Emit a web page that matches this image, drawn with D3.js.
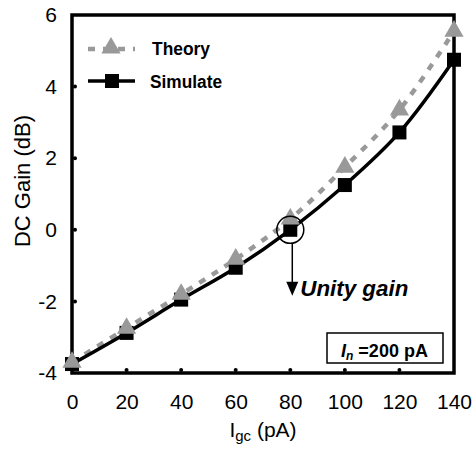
<!DOCTYPE html>
<html>
<head>
<meta charset="utf-8">
<script src="https://cdn.jsdelivr.net/npm/d3@7"></script>
<style>
  html, body { margin: 0; padding: 0; background: #fff; }
  svg { display: block; }
  text { font-family: "Liberation Sans", Arial, sans-serif; }
</style>
</head>
<body>
<script>
// Gate current I_gc (pA)
const igc = [0, 20, 40, 60, 80, 100, 120, 140];
// DC gain (dB), analytical model
const theory = [-3.7, -2.75, -1.8, -0.82, 0.3, 1.75, 3.35, 5.55];
// DC gain (dB), circuit simulation
const simulate = [-3.75, -2.88, -1.95, -1.06, 0.0, 1.25, 2.72, 4.75];
const xTicks = [0, 20, 40, 60, 80, 100, 120, 140];
const yTicks = [-4, -2, 0, 2, 4, 6];

const W = 473, H = 449;
const m = { left: 72, right: 19, top: 15, bottom: 76 };
const FONT = '"Liberation Sans", Arial, sans-serif';

const svg = d3.select("body").append("svg").attr("width", W).attr("height", H);

const x = d3.scaleLinear().domain([0, 140]).range([m.left, W - m.right]);
const y = d3.scaleLinear().domain([-4, 6]).range([H - m.bottom, m.top]);

// Inner ticks drawn as small dots
const tickR = 2;
svg.append("g").selectAll("circle").data(yTicks.slice(1, -1)).join("circle")
  .attr("cx", x(0) + 3).attr("cy", d => y(d)).attr("r", tickR).attr("fill", "#000");
svg.append("g").selectAll("circle").data(xTicks.slice(1, -1)).join("circle")
  .attr("cx", d => x(d)).attr("cy", y(-4) - 3).attr("r", tickR).attr("fill", "#000");

// Tick labels via d3 axes (axis lines hidden, frame drawn separately)
const xAxis = svg.append("g").attr("transform", `translate(0,${y(-4)})`)
  .call(d3.axisBottom(x).tickValues(xTicks).tickSize(0).tickPadding(21).tickFormat(d => String(d)));
xAxis.select(".domain").remove();
xAxis.selectAll("text").attr("font-size", 21).attr("font-family", FONT).attr("fill", "#000");

const yAxis = svg.append("g").attr("transform", `translate(${x(0)},0)`)
  .call(d3.axisLeft(y).tickValues(yTicks).tickSize(0).tickPadding(15).tickFormat(d => String(d)));
yAxis.select(".domain").remove();
yAxis.selectAll("text").attr("font-size", 21).attr("font-family", FONT).attr("fill", "#000");

// Axis titles
const xt = svg.append("text").attr("x", (x(0) + x(140)) / 2).attr("y", 437)
  .attr("text-anchor", "middle").attr("font-size", 21);
xt.append("tspan").text("I");
xt.append("tspan").text("gc").attr("font-size", 15).attr("dy", 4);
xt.append("tspan").text(" (pA)").attr("dy", -4);

svg.append("text").attr("transform", `translate(30,181) rotate(-90)`)
  .attr("text-anchor", "middle").attr("font-size", 22).text("DC Gain (dB)");

// Plot frame
svg.append("rect").attr("x", x(0)).attr("y", y(6)).attr("width", x(140) - x(0)).attr("height", y(-4) - y(6))
  .attr("fill", "none").attr("stroke", "#000").attr("stroke-width", 3.5);

const pts = (arr) => igc.map((v, i) => [v, arr[i]]);
const line = d3.line().x(d => x(d[0])).y(d => y(d[1])).curve(d3.curveCatmullRom.alpha(0.5));

// Theory curve
svg.append("path").attr("d", line(pts(theory))).attr("fill", "none")
  .attr("stroke", "#999").attr("stroke-width", 4.5).attr("stroke-dasharray", "7,8");
// Simulation curve
svg.append("path").attr("d", line(pts(simulate))).attr("fill", "none")
  .attr("stroke", "#000").attr("stroke-width", 3.5);

const sq = 14;
svg.append("g").selectAll("rect").data(pts(simulate)).join("rect")
  .attr("x", d => x(d[0]) - sq / 2).attr("y", d => y(d[1]) - sq / 2)
  .attr("width", sq).attr("height", sq).attr("fill", "#000");

const tri = d3.symbol().type(d3.symbolTriangle).size(160);
svg.append("g").selectAll("path").data(pts(theory)).join("path")
  .attr("transform", d => `translate(${x(d[0])},${y(d[1])})`)
  .attr("d", tri).attr("fill", "#999");

// Legend
const lg = svg.append("g");
lg.append("line").attr("x1", 88).attr("x2", 135).attr("y1", 49).attr("y2", 49)
  .attr("stroke", "#999").attr("stroke-width", 4.5).attr("stroke-dasharray", "7,8");
lg.append("path").attr("transform", "translate(111,48)").attr("d", tri).attr("fill", "#999");
lg.append("text").attr("x", 152).attr("y", 55).attr("font-size", 18).attr("font-weight", "bold")
  .attr("textLength", 58).attr("lengthAdjust", "spacingAndGlyphs").text("Theory");
lg.append("line").attr("x1", 88).attr("x2", 135).attr("y1", 81).attr("y2", 81)
  .attr("stroke", "#000").attr("stroke-width", 3.5);
lg.append("rect").attr("x", 112 - sq / 2).attr("y", 81 - sq / 2).attr("width", sq).attr("height", sq).attr("fill", "#000");
lg.append("text").attr("x", 150).attr("y", 88).attr("font-size", 18).attr("font-weight", "bold")
  .attr("textLength", 72).attr("lengthAdjust", "spacingAndGlyphs").text("Simulate");

// Unity-gain annotation
const ux = x(80), uy = y(0);
svg.append("circle").attr("cx", ux).attr("cy", uy).attr("r", 13.5).attr("fill", "none")
  .attr("stroke", "#000").attr("stroke-width", 1.5);
svg.append("line").attr("x1", ux + 2).attr("x2", ux + 2).attr("y1", uy + 13).attr("y2", uy + 55)
  .attr("stroke", "#000").attr("stroke-width", 1.5);
svg.append("path").attr("d", `M${ux - 4},${uy + 52} L${ux + 8},${uy + 52} L${ux + 2},${uy + 66} Z`).attr("fill", "#000");
svg.append("text").attr("x", ux + 10).attr("y", uy + 66).attr("font-size", 22)
  .attr("font-weight", "bold").attr("font-style", "italic")
  .attr("textLength", 108).attr("lengthAdjust", "spacingAndGlyphs").text("Unity gain");

// Parameter box
svg.append("rect").attr("x", 327).attr("y", 333).attr("width", 116).attr("height", 30)
  .attr("fill", "#fff").attr("stroke", "#000").attr("stroke-width", 1.5);
const bt = svg.append("text").attr("x", 341).attr("y", 357)
  .attr("font-size", 18).attr("font-weight", "bold");
bt.append("tspan").text("I").attr("font-style", "italic");
bt.append("tspan").text("n").attr("font-style", "italic").attr("font-size", 12).attr("dy", 3);
bt.append("tspan").text(" =200 pA").attr("dy", -3);
</script>
</body>
</html>
